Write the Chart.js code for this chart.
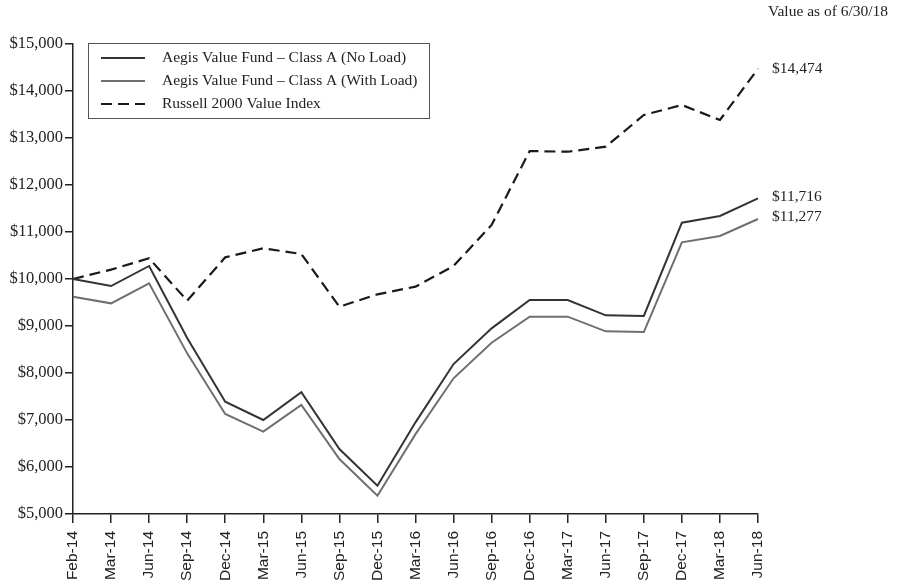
<!DOCTYPE html>
<html>
<head>
<meta charset="utf-8">
<script src="https://cdn.jsdelivr.net/npm/chart.js@4/dist/chart.umd.min.js"></script>
<style>
html,body{margin:0;padding:0;background:#fff;}
#wrap{position:relative;width:901px;height:585px;}
</style>
</head>
<body>
<div id="wrap"><canvas id="c" width="901" height="585"></canvas></div>
<script>
const categories = ["Feb-14","Mar-14","Jun-14","Sep-14","Dec-14","Mar-15","Jun-15","Sep-15","Dec-15","Mar-16","Jun-16","Sep-16","Dec-16","Mar-17","Jun-17","Sep-17","Dec-17","Mar-18","Jun-18"];
const noLoad   = [10000, 9850,10277,8745,7390,7000,7590,6383,5602,6950,8190,8950,9553,9553,9227,9213,11198,11340,11716];
const withLoad = [ 9624, 9482, 9908,8418,7128,6752,7319,6170,5390,6700,7887,8645,9199,9199,8887,8872,10781,10915,11277];
const russell  = [10000,10200,10440,9540,10461,10653,10532,9411,9674,9837,10277,11150,12723,12708,12815,13489,13702,13383,14474];
const seriesNames = ["Aegis Value Fund \u2013 Class A (No Load)","Aegis Value Fund \u2013 Class A (With Load)","Russell 2000 Value Index"];
const endLabels = ["$11,716","$11,277","$14,474"];
const yTicks = {min:5000, max:15000, step:1000};
const noteText = "Value as of 6/30/18";

const serif = "'Liberation Serif','Times New Roman',serif";
const sans = "'Liberation Sans',Arial,sans-serif";

const fmt = v => "$" + v.toLocaleString("en-US");

const overlay = {
  id:'overlay',
  afterDraw(chart){
    const ctx = chart.ctx;
    const ds = chart.data.datasets;
    ctx.save();
    // legend box
    const bx=88, by=43, bw=341, bh=75;
    ctx.strokeStyle='#555'; ctx.lineWidth=1;
    ctx.strokeRect(bx+0.5,by+0.5,bw,bh);
    const rows=[58,81,104];
    ds.forEach((d,i)=>{
      ctx.beginPath();
      ctx.strokeStyle=d.borderColor; ctx.lineWidth=2;
      ctx.setLineDash(d.borderDash||[]);
      ctx.moveTo(101,rows[i]); ctx.lineTo(145,rows[i]); ctx.stroke();
      ctx.setLineDash([]);
      ctx.fillStyle='#222'; ctx.font="15.5px "+serif;
      ctx.textBaseline='middle'; ctx.textAlign='left';
      ctx.fillText(d.label,162,rows[i]);
    });
    // end labels
    const ys = chart.scales.y;
    const offs=[-1,-2,0];
    ds.forEach((d,i)=>{
      const v=d.data[d.data.length-1];
      ctx.fillStyle='#222'; ctx.font="15.5px "+serif;
      ctx.textBaseline='middle'; ctx.textAlign='left';
      ctx.fillText(endLabels[i],772,ys.getPixelForValue(v)+offs[i]);
    });
    // note
    ctx.font="15.5px "+serif; ctx.textAlign='left'; ctx.textBaseline='middle';
    ctx.fillText(noteText,768,12);
    ctx.restore();
  }
};

new Chart(document.getElementById('c'),{
  type:'line',
  data:{
    labels:categories,
    datasets:[
      {label:seriesNames[0],data:noLoad,borderColor:'#333333',borderWidth:2,pointRadius:0,tension:0,fill:false},
      {label:seriesNames[1],data:withLoad,borderColor:'#6f6f6f',borderWidth:2,pointRadius:0,tension:0,fill:false},
      {label:seriesNames[2],data:russell,borderColor:'#1a1a1a',borderWidth:2.2,borderDash:[11,6],pointRadius:0,tension:0,fill:false}
    ]
  },
  options:{
    responsive:false,
    animation:false,
    layout:{padding:{top:44,right:143,bottom:0,left:0}},
    plugins:{legend:{display:false},tooltip:{enabled:false},title:{display:false}},
    scales:{
      x:{
        offset:false,
        grid:{display:true,drawOnChartArea:false,drawTicks:true,tickLength:9,color:'#222',lineWidth:1.5},
        border:{display:true,color:'#222',width:1.5},
        ticks:{minRotation:90,maxRotation:90,autoSkip:false,color:'#222',padding:8,font:{family:sans,size:15.5}},
        afterFit(s){s.height=71;}
      },
      y:{
        min:yTicks.min,max:yTicks.max,
        grid:{display:true,drawOnChartArea:false,drawTicks:true,tickLength:8,color:'#222',lineWidth:1.5},
        border:{display:true,color:'#222',width:1.5},
        ticks:{stepSize:yTicks.step,color:'#222',padding:2,font:{family:serif,size:16.5},callback:v=>fmt(v)},
        afterFit(s){s.width=73;}
      }
    }
  },
  plugins:[overlay]
});
</script>
</body>
</html>
